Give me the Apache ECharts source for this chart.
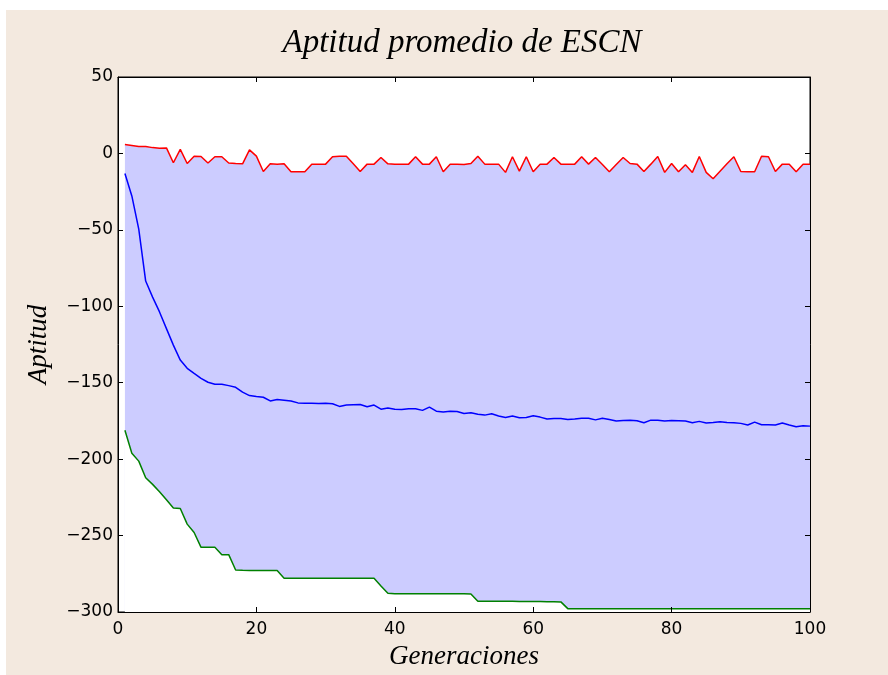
<!DOCTYPE html>
<html>
<head>
<meta charset="utf-8">
<script src="https://cdn.jsdelivr.net/npm/echarts@6/dist/echarts.min.js"></script>
<style>
html,body{margin:0;padding:0;background:#ffffff;}
#bg{position:absolute;left:6px;top:10px;width:882px;height:665px;background:#f3e9df;}
#chart{position:absolute;left:0;top:0;width:888px;height:675px;}
</style>
</head>
<body>
<div id="bg"></div>
<div id="chart"></div>
<script>
const generations = Array.from({length: 100}, (_, i) => i + 1);

const maxFitness = [
  5.8, 5.2, 4.5, 4.5, 3.8, 3.4, 3.6, -6.1, 2.7, -6.6,
  -1.8, -2, -6.3, -2.2, -2.2, -6.3, -6.6, -6.8, 2.3, -1.8,
  -11.8, -6.8, -7, -6.8, -12, -12, -12, -7, -7, -7,
  -2.2, -1.8, -1.8, -6.8, -11.8, -7, -7, -2.7, -6.8, -7,
  -7, -7, -2.2, -7, -7, -2.2, -12, -7, -7, -7.2,
  -6.6, -1.8, -7, -7, -7, -12.4, -2.2, -11.6, -2.2, -12,
  -7, -7, -2.7, -7, -7, -7, -2.2, -7, -2.7, -7.2,
  -12, -7.2, -2.7, -6.6, -7, -11.8, -7, -2, -12.4, -6.6,
  -12, -7.4, -12.4, -2, -12.4, -16.6, -11.6, -6.8, -2.2, -11.8,
  -12, -12, -1.8, -2.2, -11.8, -7, -7, -12, -7, -7
];

const meanFitness = [
  -13.1, -27.8, -49.5, -83.5, -94, -103.7, -114.6, -125.4, -135.2, -140.6,
  -143.9, -147.1, -149.7, -151, -151, -151.9, -153, -156.2, -158.4, -159,
  -159.5, -161.9, -161, -161.4, -161.9, -163.2, -163.4, -163.4, -163.6, -163.4,
  -163.8, -165.5, -164.6, -164.4, -164.2, -165.7, -164.6, -167.3, -166.6, -167.3,
  -167.6, -167.1, -167.1, -168.1, -166, -168.6, -169.2, -168.6, -168.8, -170.1,
  -169.7, -170.7, -171.2, -170.3, -171.8, -172.7, -171.8, -172.9, -172.7, -171.6,
  -172.5, -173.8, -173.4, -173.4, -174, -173.8, -173.2, -173.2, -174.3, -173.2,
  -174, -175.1, -174.7, -174.5, -174.9, -176.2, -174.5, -174.5, -175.1, -174.7,
  -174.9, -175.1, -176.2, -175.3, -176.4, -176, -175.5, -176, -176.2, -176.6,
  -177.7, -175.8, -177.5, -177.5, -177.7, -176.4, -177.7, -178.8, -178.2, -178.4
];

const minFitness = [
  -181.1, -196.1, -201.3, -212.2, -216.5, -221.3, -226.5, -231.9, -232.3, -242.5,
  -248, -257.7, -257.7, -257.7, -262.5, -262.5, -272.5, -272.7, -272.8, -272.8,
  -272.9, -272.9, -272.9, -277.9, -278, -278, -278, -278, -278, -278,
  -278, -278, -278, -278, -278, -278, -278, -283, -287.8, -288,
  -288, -288, -288, -288, -288, -288, -288, -288, -288, -288,
  -288.2, -293, -293, -293, -293, -293, -293, -293.1, -293.1, -293.2,
  -293.2, -293.3, -293.3, -293.4, -297.8, -297.8, -297.8, -297.8, -297.8, -297.8,
  -297.8, -297.8, -297.8, -297.8, -297.8, -297.8, -297.8, -297.8, -297.8, -297.8,
  -297.8, -297.8, -297.8, -297.8, -297.8, -297.8, -297.8, -297.8, -297.8, -297.8,
  -297.8, -297.8, -297.8, -297.8, -297.8, -297.8, -297.8, -297.8, -297.8, -297.8
];

const xTicks = [0, 20, 40, 60, 80, 100];
const yTicks = [-300, -250, -200, -150, -100, -50, 0, 50];

const titleText = 'Aptitud promedio de ESCN';
const xName = 'Generaciones';
const yName = 'Aptitud';

const pair = (ys) => generations.map((g, i) => [g, ys[i]]);

const tickFont = {fontFamily: 'DejaVu Sans', fontSize: 17, color: '#000'};
const nameFont = {fontFamily: 'Liberation Serif', fontStyle: 'italic', fontSize: 27, color: '#000'};
const fmt = v => (v < 0 ? '\u2212' + Math.abs(v) : String(v));

const chart = echarts.init(document.getElementById('chart'), null, {renderer: 'canvas'});
chart.setOption({
  animation: false,
  backgroundColor: 'transparent',
  title: {
    text: titleText,
    left: 457,
    top: 22,
    textAlign: 'center',
    textStyle: {fontFamily: 'Liberation Serif', fontStyle: 'italic', fontWeight: 'normal', fontSize: 33, color: '#000'}
  },
  grid: {left: 118, right: 78, top: 77, bottom: 60, show: true, backgroundColor: '#ffffff', borderColor: '#000', borderWidth: 1},
  xAxis: [
    {
      type: 'value', min: xTicks[0], max: xTicks[xTicks.length - 1], interval: 20, z: 10,
      name: xName, nameLocation: 'middle', nameGap: 31, nameTextStyle: nameFont,
      axisLine: {show: true, onZero: false, lineStyle: {color: '#000', width: 1}},
      axisTick: {show: true, inside: true, length: 5, lineStyle: {color: '#000'}},
      axisLabel: Object.assign({margin: 9, formatter: fmt}, tickFont),
      splitLine: {show: false}
    },
    {
      type: 'value', position: 'top', min: xTicks[0], max: xTicks[xTicks.length - 1], interval: 20, z: 10,
      axisLine: {show: true, onZero: false, lineStyle: {color: '#000', width: 1}},
      axisTick: {show: true, inside: true, length: 5, lineStyle: {color: '#000'}},
      axisLabel: {show: false}, splitLine: {show: false}
    }
  ],
  yAxis: [
    {
      type: 'value', min: yTicks[0], max: yTicks[yTicks.length - 1], interval: 50, z: 10,
      name: yName, nameLocation: 'middle', nameGap: 66, nameRotate: 90, nameTextStyle: nameFont,
      axisLine: {show: true, onZero: false, lineStyle: {color: '#000', width: 1}},
      axisTick: {show: true, inside: true, length: 5, lineStyle: {color: '#000'}},
      axisLabel: Object.assign({margin: 5, formatter: fmt}, tickFont),
      splitLine: {show: false}
    },
    {
      type: 'value', position: 'right', min: yTicks[0], max: yTicks[yTicks.length - 1], interval: 50, z: 10,
      axisLine: {show: true, onZero: false, lineStyle: {color: '#000', width: 1}},
      axisTick: {show: true, inside: true, length: 5, lineStyle: {color: '#000'}},
      axisLabel: {show: false}, splitLine: {show: false}
    }
  ],
  series: [
    {type: 'line', data: pair(maxFitness), symbol: 'none', lineStyle: {opacity: 0},
     areaStyle: {color: '#ccccff', opacity: 1, origin: 'start'}, silent: true, z: 1},
    {type: 'line', data: pair(minFitness), symbol: 'none', lineStyle: {opacity: 0},
     areaStyle: {color: '#ffffff', opacity: 1, origin: 'start'}, silent: true, z: 2},
    {type: 'line', data: pair(maxFitness), symbol: 'none', lineStyle: {color: '#ff0000', width: 1.5}, z: 3},
    {type: 'line', data: pair(meanFitness), symbol: 'none', lineStyle: {color: '#0000ff', width: 1.5}, z: 3},
    {type: 'line', data: pair(minFitness), symbol: 'none', lineStyle: {color: '#008000', width: 1.5}, z: 3}
  ]
});
</script>
</body>
</html>
